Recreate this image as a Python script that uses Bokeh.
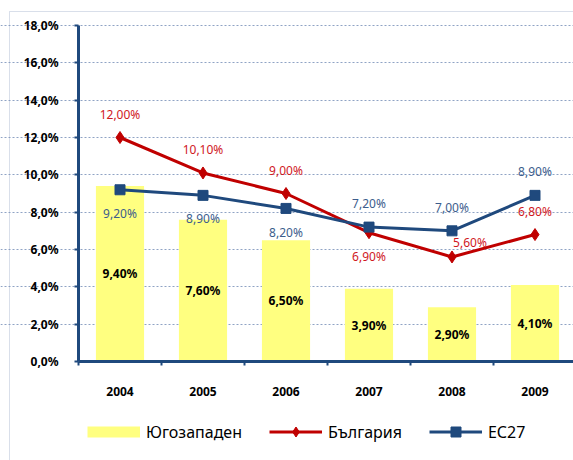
from bokeh.plotting import figure
from bokeh.models import (ColumnDataSource, FixedTicker, Legend, LegendItem,
                          Range1d, BoxAnnotation)
from bokeh.core.properties import value
from bokeh.embed import file_html
from bokeh.resources import INLINE

# ---- data ----
years = ["2004", "2005", "2006", "2007", "2008", "2009"]
yugozapaden = [9.4, 7.6, 6.5, 3.9, 2.9, 4.1]
bulgaria = [12.0, 10.1, 9.0, 6.9, 5.6, 6.8]
eu27 = [9.2, 8.9, 8.2, 7.2, 7.0, 8.9]
y_ticks = [0, 2, 4, 6, 8, 10, 12, 14, 16, 18]
y_tick_labels = ["0,0%", "2,0%", "4,0%", "6,0%", "8,0%", "10,0%",
                 "12,0%", "14,0%", "16,0%", "18,0%"]
series_names = ["Югозападен", "България", "ЕС27"]

# ---- label placement (screen px offsets) ----
bg_dx = [0, 0, 0, 0, 18, 0]
bg_dy = [-23, -23, -23, 24, -14, -23]
eu_dx = [0, 0, 0, 0, 0, 0]
eu_dy = [24, 23, 24, -24, -23, -24]

FONT = "Noto Sans"
RED = "#C00000"
BLUE = "#1F497D"
BAR = "#FFFF80"
FRAME_BORDER = "#8295B9"

def pct(v):
    return f"{v:.2f}".replace(".", ",") + "%"

xs = list(range(len(years)))

src = ColumnDataSource(dict(
    x=xs,
    yz=yugozapaden,
    yz_mid=[v / 2 for v in yugozapaden],
    yz_lbl=[pct(v) for v in yugozapaden],
    bg=bulgaria,
    bg_lbl=[pct(v) for v in bulgaria],
    bg_dx=bg_dx, bg_dy=bg_dy,
    eu=eu27,
    eu_lbl=[pct(v) for v in eu27],
    eu_dx=eu_dx, eu_dy=eu_dy,
))

# ---- geometry (pixels) ----
W, H = 573, 460
AXIS_X = 78          # pixel column of the value axis
AXIS_Y0 = 361        # pixel row of 0 %
AXIS_YTOP = 25       # pixel row of the axis top
PX_PER_CAT = 83
y_max = y_ticks[-1]
ppu = (AXIS_Y0 - AXIS_YTOP) / y_max
x_start = -0.5 - AXIS_X / PX_PER_CAT
x_end = x_start + W / PX_PER_CAT
y_start = -(H - AXIS_Y0) / ppu
y_end = y_max + AXIS_YTOP / ppu

p = figure(width=W, height=H, output_backend="svg", toolbar_location=None,
           x_range=Range1d(x_start, x_end), y_range=Range1d(y_start, y_end),
           min_border=0, min_border_left=0, min_border_right=0,
           min_border_top=0, min_border_bottom=0)
p.outline_line_color = None
p.background_fill_color = "white"
p.border_fill_color = "white"

# grid
p.xgrid.visible = False
p.ygrid.ticker = FixedTicker(ticks=y_ticks[1:])
p.ygrid.bounds = (-0.5, x_end)
p.ygrid.grid_line_color = "#8FA3C4"
p.ygrid.grid_line_dash = "2 2"
p.ygrid.grid_line_width = 1

# y axis
p.yaxis.fixed_location = -0.5
p.yaxis.bounds = (0, y_max)
p.yaxis.ticker = FixedTicker(ticks=y_ticks)
p.yaxis.major_label_overrides = {t: l for t, l in zip(y_ticks, y_tick_labels)}
p.yaxis.axis_line_color = BLUE
p.yaxis.axis_line_width = 3
p.yaxis.major_tick_line_color = BLUE
p.yaxis.major_tick_line_width = 2
p.yaxis.major_tick_out = 4
p.yaxis.major_tick_in = 0
p.yaxis.minor_tick_line_color = None
p.yaxis.major_label_standoff = 16
p.yaxis.major_label_text_font = FONT
p.yaxis.major_label_text_font_style = "bold"
p.yaxis.major_label_text_font_size = "12px"
p.yaxis.major_label_text_color = "#000000"

# x axis
p.xaxis.fixed_location = 0
p.xaxis.bounds = (-0.5, x_end)
p.xaxis.ticker = FixedTicker(ticks=xs, minor_ticks=[i - 0.5 for i in xs])
p.xaxis.major_label_overrides = {i: y for i, y in zip(xs, years)}
p.xaxis.axis_line_color = BLUE
p.xaxis.axis_line_width = 3
p.xaxis.major_tick_line_color = None
p.xaxis.major_tick_out = 0
p.xaxis.major_tick_in = 0
p.xaxis.minor_tick_line_color = BLUE
p.xaxis.minor_tick_line_width = 2
p.xaxis.minor_tick_out = 4
p.xaxis.minor_tick_in = 0
p.xaxis.major_label_standoff = 21
p.xaxis.major_label_text_font = FONT
p.xaxis.major_label_text_font_style = "bold"
p.xaxis.major_label_text_font_size = "12px"
p.xaxis.major_label_text_color = "#000000"

# bars
bars = p.vbar(x="x", top="yz", width=0.58, bottom=0, source=src,
              fill_color=BAR, line_color=None)

# lines
bg_line = p.line("x", "bg", source=src, line_color=RED, line_width=3)
bg_pts = p.scatter("x", "bg", source=src, marker="diamond", size=12,
                   fill_color=RED, line_color=RED)
eu_line = p.line("x", "eu", source=src, line_color=BLUE, line_width=3)
eu_pts = p.scatter("x", "eu", source=src, marker="square", size=10,
                   fill_color=BLUE, line_color=BLUE)

# labels
p.text("x", "yz_mid", text="yz_lbl", source=src, text_align="center",
       text_baseline="middle", text_font=value(FONT), text_font_style="bold",
       text_font_size="12px", text_color="#000000")
p.text("x", "bg", text="bg_lbl", source=src, x_offset="bg_dx", y_offset="bg_dy",
       text_align="center", text_baseline="middle", text_font=value(FONT),
       text_font_size="12px", text_color="#D0181E")
p.text("x", "eu", text="eu_lbl", source=src, x_offset="eu_dx", y_offset="eu_dy",
       text_align="center", text_baseline="middle", text_font=value(FONT),
       text_font_size="12px", text_color="#3C5D8C")

# legend swatch for the bar series (a thick yellow stroke with no drawable point)
bar_swatch = p.line(x=[0], y=[float("nan")], line_color=BAR, line_width=11)

# chart-area border (left and top edges visible)
p.add_layout(BoxAnnotation(left=9, right=W + 40, top=H - 11, bottom=-40,
                           left_units="screen", right_units="screen",
                           top_units="screen", bottom_units="screen",
                           fill_alpha=0, line_color=FRAME_BORDER, line_width=1))

legend = Legend(items=[
    LegendItem(label=series_names[0], renderers=[bar_swatch]),
    LegendItem(label=series_names[1], renderers=[bg_line, bg_pts]),
    LegendItem(label=series_names[2], renderers=[eu_line, eu_pts]),
], orientation="horizontal", location=(87, 16), glyph_width=53,
    glyph_height=25, label_standoff=6, spacing=27, padding=0, margin=0,
    border_line_color=None, background_fill_alpha=0,
    label_text_font=FONT, label_text_font_size="16px", label_height=20,
    label_text_color="#000000")
p.add_layout(legend, "center")

open("out.html", "w").write(file_html(p, INLINE))
